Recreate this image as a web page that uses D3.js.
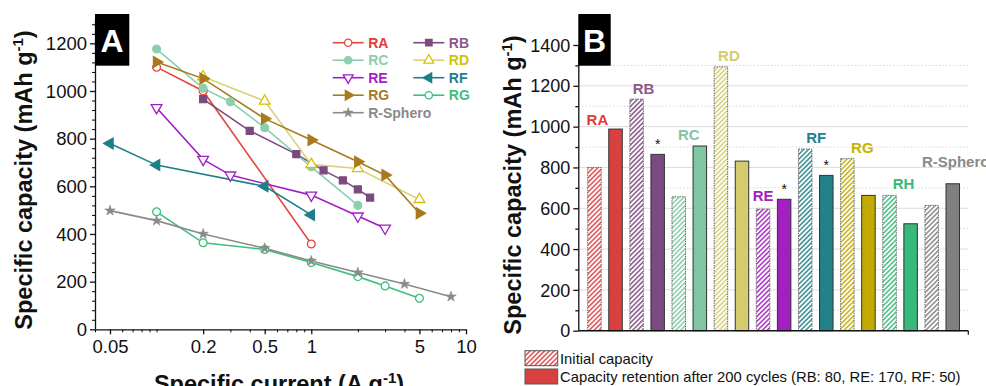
<!DOCTYPE html>
<html>
<head>
<meta charset="utf-8">
<script src="https://cdn.jsdelivr.net/npm/d3@7"></script>
<style>
  html, body { margin: 0; padding: 0; background: #fff; }
  svg { display: block; font-family: 'Liberation Sans', Arial, sans-serif; }
</style>
</head>
<body>
<div id="chart"></div>
<script>
// ---- panel A : rate capability ----
const rateRA = [[0.1, 1100], [0.2, 1000], [1, 358]];
const rateRB = [[0.2, 966], [0.4, 833], [0.8, 735], [1.2, 667], [1.6, 625], [2, 587], [2.4, 553]];
const rateRC = [[0.1, 1176], [0.2, 1011], [0.3, 955], [0.5, 846], [1, 682], [2, 520]];
const rateRD = [[0.2, 1060], [0.5, 958], [1, 692], [2, 675], [5, 545]];
const rateRE = [[0.1, 930], [0.2, 713], [0.3, 647], [1, 563], [2, 475], [3, 424]];
const rateRF = [[0.05, 780], [0.1, 689], [0.5, 600], [1, 480]];
const rateRG = [[0.1, 1122], [0.2, 1052], [0.5, 884], [1, 794], [2, 703], [3, 647], [5, 487]];
const rateRH = [[0.1, 493], [0.2, 363], [0.5, 335], [1, 280], [2, 221], [3, 182], [5, 130]];
const rateSphero = [[0.05, 498], [0.1, 456], [0.2, 400], [0.5, 340], [1, 287], [2, 238], [4, 190], [8, 137]];

const xTicksA = [0.05, 0.2, 0.5, 1, 5, 10];
const yTicksA = [0, 200, 400, 600, 800, 1000, 1200];

// ---- panel B : initial capacity vs retention ----
const groups = ['RA', 'RB', 'RC', 'RD', 'RE', 'RF', 'RG', 'RH', 'R-Sphero'];
const initialCap = [800, 1135, 656, 1293, 596, 890, 843, 663, 614];
const retainedCap = [988, 864, 905, 831, 644, 761, 663, 524, 720];
const starred = ['RB', 'RE', 'RF'];
const yTicksB = [0, 200, 400, 600, 800, 1000, 1200, 1400];
const legendB = ['Initial capacity', 'Capacity retention after 200 cycles (RB: 80, RE: 170, RF: 50)'];

// styles
const seriesA = [
  { name: 'RA', data: rateRA, color: '#e8453c', text: '#e03c3c', sym: 'circle', fill: false, rot: 0 },
  { name: 'RB', data: rateRB, color: '#7b4a7f', text: '#8a5a8a', sym: 'square', fill: true, rot: 0 },
  { name: 'RC', data: rateRC, color: '#8ccfae', text: '#8ccfae', sym: 'circle', fill: true, rot: 0 },
  { name: 'RD', data: rateRD, color: '#d9d27a', mark: '#d4c200', text: '#d2c300', sym: 'triangle', fill: false, rot: 0 },
  { name: 'RE', data: rateRE, color: '#a21fc6', text: '#a21fc6', sym: 'triangle', fill: false, rot: 180 },
  { name: 'RF', data: rateRF, color: '#1e7f8a', text: '#1e7f8a', sym: 'triangle', fill: true, rot: -90 },
  { name: 'RG', data: rateRG, color: '#a87a1e', text: '#a87a1e', sym: 'triangle', fill: true, rot: 90 },
  { name: 'RG', data: rateRH, color: '#3dbf7d', text: '#3dbf7d', sym: 'circle', fill: false, rot: 0 },
  { name: 'R-Sphero', data: rateSphero, color: '#8a8a8a', text: '#8a8a8a', sym: 'star', fill: true, rot: 0 }
];
const legendOrderA = [0, 2, 4, 6, 8, 1, 3, 5, 7];

const barColors = ['#d94141', '#7b4a80', '#80c6a3', '#d4cc6e', '#a21fc0', '#248089', '#c2aa00', '#38b97a', '#808080'];
const labelColors = ['#e03c3c', '#8a5a8a', '#80c6a3', '#d4cc6e', '#a21fc0', '#248089', '#c8b400', '#38b97a', '#8a8a8a'];
// label placement tweaks (dx from hatched bar centre, px above taller bar)
const labelShift = [[3, 4], [7, 5], [10, 6], [8, 6], [0, 8], [11, 6], [15, 6], [14, 6], [24, 17]];

const W = 986, H = 386;
const svg = d3.select('#chart').append('svg').attr('width', W).attr('height', H);
svg.append('rect').attr('width', W).attr('height', H).attr('fill', '#fff');

const symbolTypes = { circle: d3.symbolCircle, square: d3.symbolSquare, triangle: d3.symbolTriangle, star: d3.symbolStar };
function marker(sel, s, size) {
  sel.attr('d', d3.symbol().type(symbolTypes[s.sym]).size(size))
    .attr('fill', s.fill ? (s.mark || s.color) : '#fff')
    .attr('stroke', s.mark || s.color)
    .attr('stroke-width', s.sym === 'star' ? 0.6 : 1.3);
}

// ================= Panel A =================
const xA = d3.scaleLog().domain([0.04, 10]).range([95, 466]);
const yA = d3.scaleLinear().domain([0, 1300]).range([329.3, 19.5]);

const gA = svg.append('g');

// minor ticks
gA.append('g').attr('transform', 'translate(0,329.3)')
  .call(d3.axisBottom(xA).tickValues(xA.ticks().filter(v => !xTicksA.includes(v))).tickSize(3).tickFormat(''))
  .call(g => g.select('.domain').remove());
gA.append('g').attr('transform', 'translate(95,0)')
  .call(d3.axisLeft(yA).tickValues(d3.range(40, 1300, 40).filter(v => v % 200 !== 0)).tickSize(3).tickFormat(''))
  .call(g => g.select('.domain').remove());

const axAx = gA.append('g').attr('transform', 'translate(0,329.3)')
  .call(d3.axisBottom(xA).tickValues(xTicksA).tickSize(5).tickSizeOuter(0).tickPadding(6).tickFormat(d => String(d)));
const axAy = gA.append('g').attr('transform', 'translate(95,0)')
  .call(d3.axisLeft(yA).tickValues(yTicksA).tickSize(5).tickSizeOuter(0).tickPadding(3).tickFormat(d3.format('d')));
[axAx, axAy].forEach(a => {
  a.selectAll('text').attr('font-size', 18.5).attr('fill', '#111').attr('font-family', 'Liberation Sans, Arial');
  a.selectAll('line, path').attr('stroke', '#111').attr('stroke-width', 1.3);
});
axAy.selectAll('text').attr('dy', '0.34em');

const line = d3.line().x(d => xA(d[0])).y(d => yA(d[1]));
seriesA.forEach(s => {
  gA.append('path').datum(s.data).attr('d', line)
    .attr('fill', 'none').attr('stroke', s.color).attr('stroke-width', 1.6);
});
seriesA.forEach(s => {
  gA.selectAll(null).data(s.data).enter().append('path')
    .attr('transform', d => `translate(${xA(d[0])},${yA(d[1])}) rotate(${s.rot})`)
    .call(marker, s, s.sym === 'star' ? 34 : (s.sym === 'triangle' ? 50 : 48));
});

// legend A
const legA = gA.append('g');
legendOrderA.forEach((idx, k) => {
  const s = seriesA[idx];
  const col = k < 5 ? 0 : 1, row = k < 5 ? k : k - 5;
  const x0 = col === 0 ? 332.7 : 413.3, y0 = 42.7 + row * 17.5;
  legA.append('line').attr('x1', x0).attr('x2', x0 + 31).attr('y1', y0).attr('y2', y0)
    .attr('stroke', s.color).attr('stroke-width', 1.6);
  legA.append('path').attr('transform', `translate(${x0 + 15.5},${y0}) rotate(${s.rot})`)
    .call(marker, s, s.sym === 'star' ? 30 : 42);
  legA.append('text').attr('x', x0 + 35.5).attr('y', y0 + 5).text(s.name)
    .attr('fill', s.text).attr('font-weight', 'bold').attr('font-size', 14);
});

// titles A
gA.append('text').attr('transform', 'translate(32,180) rotate(-90)')
  .attr('text-anchor', 'middle').attr('font-weight', 'bold').attr('font-size', 23.5).attr('fill', '#111')
  .html('Specific capacity (mAh g<tspan dy="-9" font-size="15">-1</tspan><tspan dy="9">)</tspan>');
gA.append('text').attr('x', 279).attr('y', 392)
  .attr('text-anchor', 'middle').attr('font-weight', 'bold').attr('font-size', 23.5).attr('fill', '#111')
  .html('Specific current (A g<tspan dy="-9" font-size="15">-1</tspan><tspan dy="9">)</tspan>');

gA.append('rect').attr('x', 95).attr('y', 14).attr('width', 34.3).attr('height', 51.7).attr('fill', '#000');
gA.append('text').attr('x', 112).attr('y', 52).attr('text-anchor', 'middle')
  .attr('fill', '#fff').attr('font-weight', 'bold').attr('font-size', 32).text('A');

// ================= Panel B =================
const barKeys = [];
groups.forEach(g => { barKeys.push(g + ':init'); barKeys.push(g + ':ret'); });
const xB = d3.scaleBand().domain(barKeys).range([583.9, 963.3]).paddingInner(0.36).paddingOuter(0.18);
const yB = d3.scaleLinear().domain([0, 1400]).range([330.7, 45]);

const gB = svg.append('g');
const defs = svg.append('defs');
barColors.forEach((c, i) => {
  const p = defs.append('pattern').attr('id', 'hatch' + i).attr('patternUnits', 'userSpaceOnUse')
    .attr('width', 3.4).attr('height', 3.4).attr('patternTransform', 'rotate(45)');
  p.append('rect').attr('width', 3.4).attr('height', 3.4).attr('fill', '#fff');
  p.append('line').attr('x1', 0.8).attr('x2', 0.8).attr('y1', 0).attr('y2', 3.4)
    .attr('stroke', c).attr('stroke-width', 1.4);
});

// grid
gB.append('g').selectAll('line').data(d3.range(100, 1400, 100)).enter().append('line')
  .attr('x1', 578.3).attr('x2', 968.3).attr('y1', d => yB(d)).attr('y2', d => yB(d))
  .attr('stroke', d => d % 200 === 0 ? '#dcdcdc' : '#d6d6d6')
  .attr('stroke-width', 1)
  .attr('stroke-dasharray', d => d % 200 === 0 ? null : '1.5,2');

// bars
groups.forEach((g, i) => {
  gB.append('rect').attr('x', xB(g + ':init')).attr('width', xB.bandwidth())
    .attr('y', yB(initialCap[i])).attr('height', yB(0) - yB(initialCap[i]))
    .attr('fill', `url(#hatch${i})`).attr('stroke', '#666').attr('stroke-width', 1)
    .attr('stroke-dasharray', '1.5,1');
  gB.append('rect').attr('x', xB(g + ':ret')).attr('width', xB.bandwidth())
    .attr('y', yB(retainedCap[i])).attr('height', yB(0) - yB(retainedCap[i]))
    .attr('fill', barColors[i]).attr('stroke', '#333').attr('stroke-width', 1);
  const top = Math.min(yB(initialCap[i]), yB(retainedCap[i]));
  const ref = g === 'RE' ? yB(initialCap[i]) : top;
  gB.append('text')
    .attr('x', xB(g + ':init') + xB.bandwidth() / 2 + labelShift[i][0])
    .attr('y', ref - labelShift[i][1])
    .attr('text-anchor', 'middle').attr('font-weight', 'bold').attr('font-size', 15)
    .attr('fill', labelColors[i]).text(g);
  if (starred.includes(g)) {
    gB.append('text').attr('x', xB(g + ':ret') + xB.bandwidth() / 2).attr('y', yB(retainedCap[i]) - 5)
      .attr('text-anchor', 'middle').attr('font-size', 14).attr('fill', '#111').text('*');
  }
});

// axes B
gB.append('g').attr('transform', 'translate(578.3,0)')
  .call(d3.axisLeft(yB).tickValues(d3.range(100, 1400, 200)).tickSize(3).tickFormat(''))
  .call(g => g.select('.domain').remove())
  .selectAll('line').attr('stroke', '#111').attr('stroke-width', 1.3);
const axBy = gB.append('g').attr('transform', 'translate(578.3,0)')
  .call(d3.axisLeft(yB).tickValues(yTicksB).tickSize(5).tickSizeOuter(0).tickPadding(3).tickFormat(d3.format('d')));
axBy.selectAll('text').attr('font-size', 18).attr('fill', '#111').attr('dy', '0.34em');
axBy.selectAll('line, path').attr('stroke', '#111').attr('stroke-width', 1.3);
gB.append('line').attr('x1', 578.3).attr('x2', 968.3).attr('y1', yB(0)).attr('y2', yB(0))
  .attr('stroke', '#111').attr('stroke-width', 1.5);
gB.append('line').attr('x1', 968.3).attr('x2', 968.3).attr('y1', yB(0)).attr('y2', yB(0) + 4)
  .attr('stroke', '#111').attr('stroke-width', 1.2);

gB.append('text').attr('transform', 'translate(521,185) rotate(-90)')
  .attr('text-anchor', 'middle').attr('font-weight', 'bold').attr('font-size', 23.5).attr('fill', '#111')
  .html('Specific capacity (mAh g<tspan dy="-9" font-size="15">-1</tspan><tspan dy="9">)</tspan>');

gB.append('rect').attr('x', 578.3).attr('y', 14).attr('width', 32.4).attr('height', 51.7).attr('fill', '#000');
gB.append('text').attr('x', 594.5).attr('y', 52).attr('text-anchor', 'middle')
  .attr('fill', '#fff').attr('font-weight', 'bold').attr('font-size', 32).text('B');

// legend B
legendB.forEach((t, k) => {
  const y0 = 350.7 + k * 18.3;
  gB.append('rect').attr('x', 525).attr('y', y0).attr('width', 32.7).attr('height', 15)
    .attr('fill', k === 0 ? 'url(#hatch0)' : barColors[0]).attr('stroke', '#555').attr('stroke-width', 1);
  gB.append('text').attr('x', 560).attr('y', y0 + 13).attr('font-size', 14.8).attr('fill', '#111').text(t);
});
</script>
</body>
</html>
